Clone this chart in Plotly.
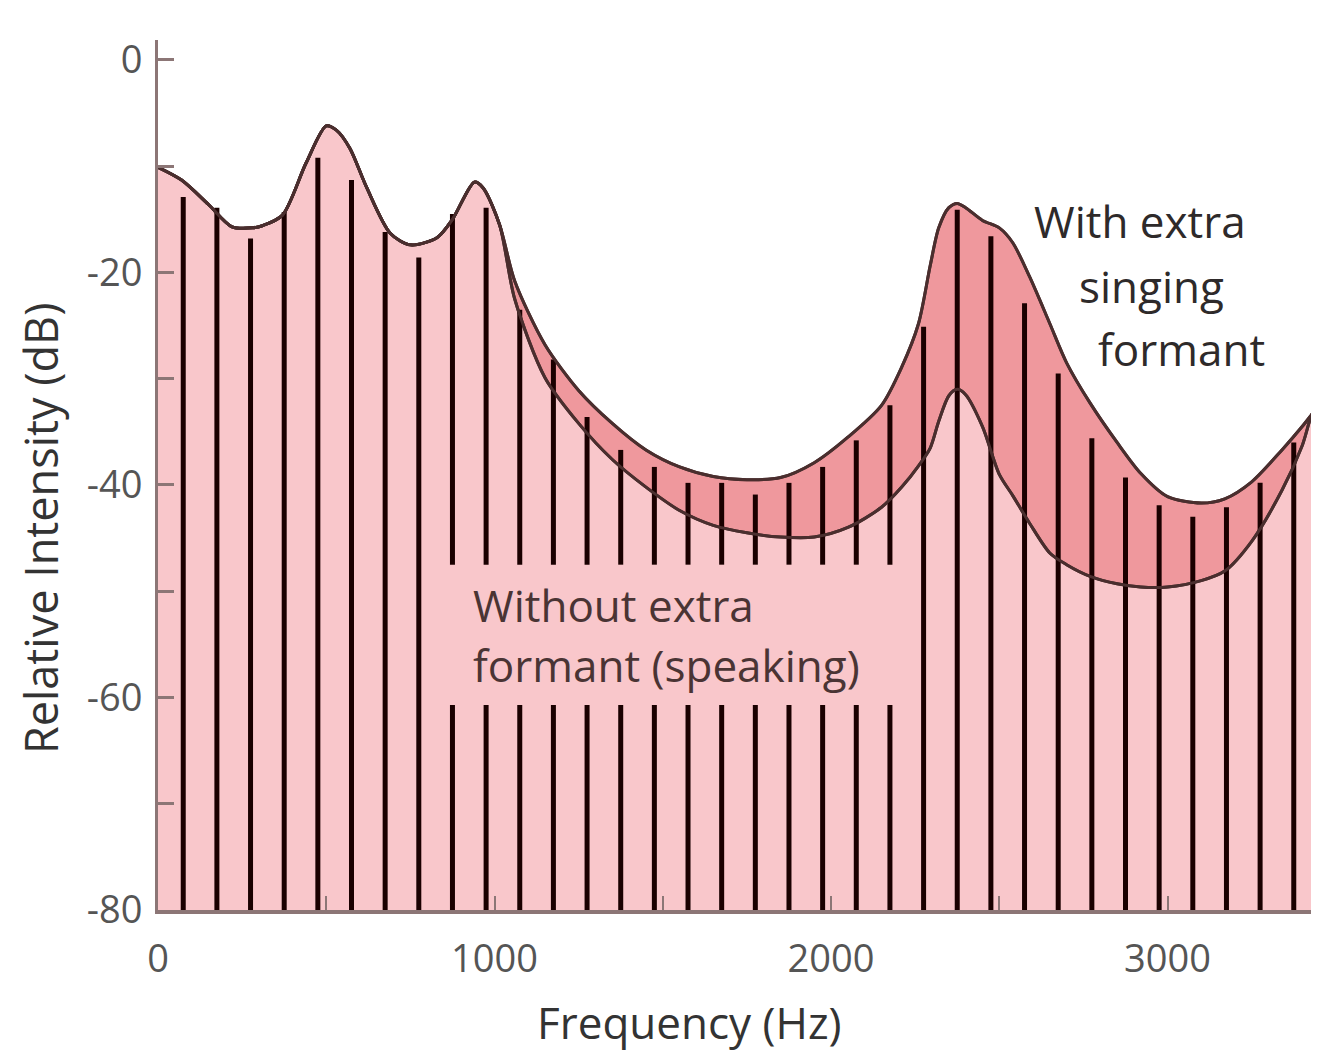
import plotly.graph_objects as go

# ---------------- data ----------------
freq_hz = [0, 70, 150, 220, 280, 310, 370, 440, 500, 530, 570, 620, 690, 750, 830, 875,
           940, 965, 1015, 1060, 1150, 1250, 1350, 1450, 1550, 1650, 1750, 1850, 1950,
           2050, 2150, 2210, 2260, 2295, 2320, 2350, 2375, 2400, 2450, 2500, 2540, 2590,
           2650, 2700, 2770, 2850, 2920, 3000, 3100, 3170, 3250, 3340, 3400, 3430, 3450]

with_formant_db = [-10.1, -11.3, -13.6, -15.7, -15.8, -15.6, -14.6, -9.7, -6.2, -6.6, -8.3,
                   -12.0, -16.3, -17.4, -16.7, -15.0, -11.5, -12.0, -15.5, -20.8, -26.8,
                   -31.1, -34.2, -36.7, -38.3, -39.2, -39.5, -39.3, -37.9, -35.5, -32.5,
                   -28.9, -24.8, -19.3, -15.8, -13.9, -13.5, -13.9, -15.1, -15.8, -17.2,
                   -20.4, -24.8, -28.5, -32.3, -36.0, -38.9, -41.1, -41.7, -41.3, -39.7,
                   -36.7, -34.5, -33.3, -32.5]

without_formant_db = [-10.1, -11.3, -13.6, -15.7, -15.8, -15.6, -14.6, -9.7, -6.2, -6.6, -8.3,
                      -12.0, -16.3, -17.4, -16.7, -15.0, -11.5, -12.0, -15.5, -22.5, -29.9,
                      -34.2, -37.6, -40.2, -42.4, -43.8, -44.5, -44.9, -44.9, -44.0, -42.1,
                      -40.2, -38.2, -36.5, -34.0, -31.6, -31.0, -31.5, -34.5, -39.0, -41.0,
                      -43.6, -46.4, -47.5, -48.6, -49.3, -49.6, -49.6, -49.0, -48.1, -45.3,
                      -40.5, -36.3, -33.3, -32.5]

harmonic_hz = [75, 175, 275, 375, 475, 575, 675, 775, 875, 975, 1075, 1175, 1275, 1375,
               1475, 1575, 1675, 1775, 1875, 1975, 2075, 2175, 2275, 2375, 2475, 2575,
               2675, 2775, 2875, 2975, 3075, 3175, 3275, 3375]
harmonic_db = [-12.9, -13.9, -16.8, -14.3, -9.2, -11.3, -16.2, -18.6, -14.5, -13.9, -23.5,
               -28.2, -33.6, -36.7, -38.3, -39.8, -39.8, -40.9, -39.8, -38.3, -35.8, -32.5,
               -25.1, -14.1, -16.6, -22.9, -29.5, -35.6, -39.3, -41.9, -43.0, -42.1, -39.8,
               -36.0]

x_tick_vals = [0, 500, 1000, 1500, 2000, 2500, 3000]
x_tick_text = ["0", "", "1000", "", "2000", "", "3000"]
y_tick_vals = [-80, -70, -60, -50, -40, -30, -20, -10, 0]
y_tick_text = ["-80", "", "-60", "", "-40", "", "-20", "", "0"]

floor_db = -80
x_range = [0, 3450]
y_range = [-80, 1.88]
# harmonics interrupted behind the "Without extra formant" label
label_gap_hz = (850, 2200)
label_gap_db = (-60.7, -47.5)

# ---------------- styling ----------------
FONT = "Open Sans"
LIGHT_PINK = "#F9C7CB"
DARK_PINK = "#EF989D"
ENV_LINE = "#4a2e2e"
HARM_LINE = "#1a0000"
AXIS_COL = "#8c7676"

fig = go.Figure()

fig.add_trace(go.Scatter(x=[x_range[0], x_range[1]], y=[floor_db, floor_db], mode="lines",
                         line=dict(width=0, color="rgba(0,0,0,0)"), showlegend=False,
                         hoverinfo="skip"))
fig.add_trace(go.Scatter(x=freq_hz, y=without_formant_db, mode="lines", fill="tonexty",
                         fillcolor=LIGHT_PINK,
                         line=dict(color=ENV_LINE, width=3, shape="spline", smoothing=0.8),
                         showlegend=False, name="Without extra formant"))
fig.add_trace(go.Scatter(x=freq_hz, y=with_formant_db, mode="lines", fill="tonexty",
                         fillcolor=DARK_PINK,
                         line=dict(color=ENV_LINE, width=3, shape="spline", smoothing=0.8),
                         showlegend=False, name="With extra singing formant"))

hx, hy = [], []
for f, db in zip(harmonic_hz, harmonic_db):
    if label_gap_hz[0] <= f <= label_gap_hz[1]:
        hx += [f, f, None, f, f, None]
        hy += [floor_db, label_gap_db[0], None, label_gap_db[1], db, None]
    else:
        hx += [f, f, None]
        hy += [floor_db, db, None]
fig.add_trace(go.Scatter(x=hx, y=hy, mode="lines", line=dict(color=HARM_LINE, width=5),
                         showlegend=False, hoverinfo="skip"))

for ys in (without_formant_db, with_formant_db):
    fig.add_trace(go.Scatter(x=freq_hz, y=ys, mode="lines",
                             line=dict(color=ENV_LINE, width=3, shape="spline", smoothing=0.8),
                             showlegend=False, hoverinfo="skip"))

ann_font = dict(family=FONT, size=44, color="#2e2a2a")
low_font = dict(family=FONT, size=44, color="#4a3434")
annotations = [
    dict(text="With extra", x=2917, y=-15.2, xref="x", yref="y", showarrow=False,
         font=ann_font, xanchor="center", yanchor="middle"),
    dict(text="singing", x=2951, y=-21.3, xref="x", yref="y", showarrow=False,
         font=ann_font, xanchor="center", yanchor="middle"),
    dict(text="formant", x=3042, y=-27.2, xref="x", yref="y", showarrow=False,
         font=ann_font, xanchor="center", yanchor="middle"),
    dict(text="Without extra", x=930, y=-51.3, xref="x", yref="y", showarrow=False,
         font=low_font, xanchor="left", yanchor="middle"),
    dict(text="formant (speaking)", x=930, y=-56.9, xref="x", yref="y", showarrow=False,
         font=low_font, xanchor="left", yanchor="middle"),
    dict(text="Relative Intensity (dB)", x=-0.1016, y=0.439, xref="paper", yref="paper",
         showarrow=False, textangle=-90, font=dict(family=FONT, size=45, color="#333333"),
         xanchor="center", yanchor="middle"),
    dict(text="Frequency (Hz)", x=0.458, y=-0.1287, xref="paper", yref="paper",
         showarrow=False, font=dict(family=FONT, size=44, color="#333333"),
         xanchor="center", yanchor="middle"),
]

# page body has an 8px default margin, so the figure is 8px smaller and offset
fig.update_layout(
    width=1311, height=1043, autosize=False,
    margin=dict(l=150, r=0, t=32, b=141),
    paper_bgcolor="white", plot_bgcolor="white",
    annotations=annotations,
    xaxis=dict(range=x_range, showgrid=False, zeroline=False, showline=True,
               linecolor=AXIS_COL, linewidth=4, ticks="inside", ticklen=14, tickwidth=2,
               tickcolor=AXIS_COL, tickvals=x_tick_vals, ticktext=x_tick_text,
               tickfont=dict(family=FONT, size=38, color="#555555"),
               ticklabelstandoff=12),
    yaxis=dict(range=y_range, showgrid=False, zeroline=False, showline=True,
               linecolor=AXIS_COL, linewidth=3, ticks="inside", ticklen=16, tickwidth=3,
               tickcolor=AXIS_COL, tickvals=y_tick_vals, ticktext=y_tick_text,
               tickfont=dict(family=FONT, size=38, color="#555555"),
               ticklabelstandoff=5),
)

fig.write_html("out.html")
